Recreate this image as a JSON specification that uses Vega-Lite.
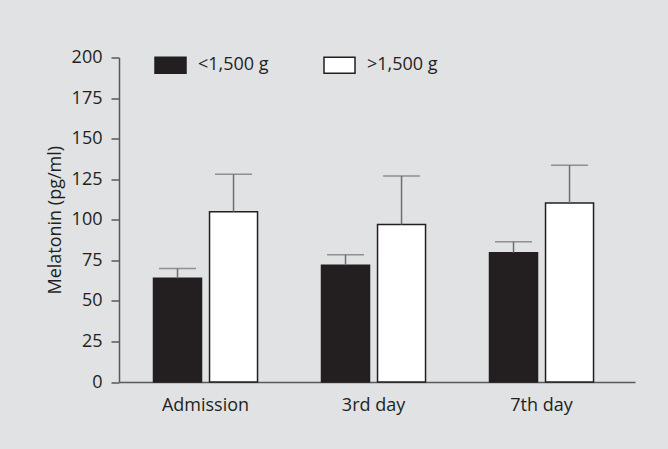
{
  "$schema": "https://vega.github.io/schema/vega-lite/v6.json",
  "width": 516,
  "height": 324.5,
  "autosize": {"type": "none"},
  "padding": {"left": 119, "top": 57.5, "right": 33, "bottom": 67},
  "background": "#e1e2e4",
  "config": {
    "view": {"stroke": null},
    "font": "Open Sans",
    "axis": {"labelColor": "#231f20", "titleColor": "#231f20", "labelFontSize": 18, "titleFontSize": 18, "titleFontWeight": "normal", "domainColor": "#58595b", "tickColor": "#58595b", "domainWidth": 1.5, "tickWidth": 1.5, "grid": false}
  },
  "data": {
    "values": [
      {"day": "Admission", "group": "<1,500 g", "value": 64, "upper": 70},
      {"day": "Admission", "group": ">1,500 g", "value": 105, "upper": 128},
      {"day": "3rd day", "group": "<1,500 g", "value": 72, "upper": 78.5},
      {"day": "3rd day", "group": ">1,500 g", "value": 97, "upper": 127},
      {"day": "7th day", "group": "<1,500 g", "value": 79.7, "upper": 86.5},
      {"day": "7th day", "group": ">1,500 g", "value": 110.3, "upper": 133.6}
    ]
  },
  "encoding": {
    "x": {"field": "day", "type": "nominal", "sort": ["Admission", "3rd day", "7th day"], "scale": {"paddingInner": 0, "paddingOuter": 0.0357, "align": 0.21}, "axis": {"title": null, "labelAngle": 0, "ticks": false, "labelPadding": 14}},
    "xOffset": {"field": "group", "type": "nominal", "sort": ["<1,500 g", ">1,500 g"], "scale": {"paddingInner": 0.143, "paddingOuter": 0.571}}
  },
  "layer": [
    {
      "mark": {"type": "bar", "stroke": "#231f20", "strokeWidth": 1.5},
      "encoding": {
        "y": {"field": "value", "type": "quantitative", "title": "Melatonin (pg/ml)", "scale": {"domain": [0, 200]}, "axis": {"values": [0, 25, 50, 75, 100, 125, 150, 175, 200], "tickSize": 8, "labelPadding": 9, "titlePadding": 7}},
        "fill": {"field": "group", "type": "nominal", "sort": ["<1,500 g", ">1,500 g"], "scale": {"domain": ["<1,500 g", ">1,500 g"], "range": ["#231f20", "#ffffff"]},
          "legend": {"orient": "none", "legendX": 35, "legendY": -9, "direction": "horizontal", "title": null, "symbolType": "M-1,-0.52H1V0.52H-1Z", "symbolSize": 961, "symbolStrokeColor": "#231f20", "symbolStrokeWidth": 1.5, "labelFontSize": 18, "labelColor": "#231f20", "labelOffset": 11, "columnPadding": 52}}
      }
    },
    {
      "mark": {"type": "rule", "color": "#6d6e71", "strokeWidth": 1.5},
      "encoding": {"y": {"field": "value", "type": "quantitative", "title": "Melatonin (pg/ml)"}, "y2": {"field": "upper"}}
    },
    {
      "mark": {"type": "tick", "color": "#6d6e71", "thickness": 1.5, "size": 37},
      "encoding": {"y": {"field": "upper", "type": "quantitative", "title": "Melatonin (pg/ml)"}}
    }
  ]
}
